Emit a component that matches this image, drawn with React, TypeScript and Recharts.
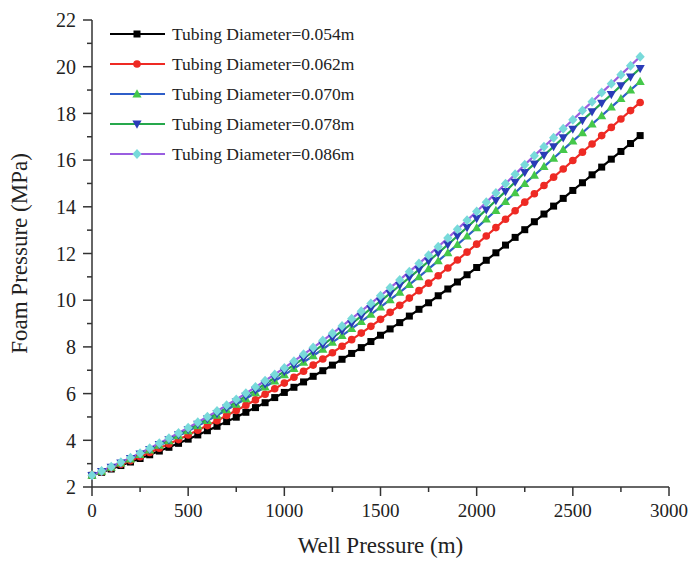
import { LineChart, Line, XAxis, YAxis, Legend } from 'recharts'

const WELL_DEPTH = [
  0, 50, 100, 150, 200, 250, 300, 350, 400, 450,
  500, 550, 600, 650, 700, 750, 800, 850, 900, 950,
  1000, 1050, 1100, 1150, 1200, 1250, 1300, 1350, 1400, 1450,
  1500, 1550, 1600, 1650, 1700, 1750, 1800, 1850, 1900, 1950,
  2000, 2050, 2100, 2150, 2200, 2250, 2300, 2350, 2400, 2450,
  2500, 2550, 2600, 2650, 2700, 2750, 2800, 2850,
]

const D054 = [
  2.50, 2.63, 2.77, 2.92, 3.07, 3.22, 3.38, 3.54, 3.70, 3.87,
  4.05, 4.23, 4.41, 4.60, 4.80, 4.99, 5.20, 5.40, 5.61, 5.83,
  6.05, 6.27, 6.50, 6.74, 6.98, 7.22, 7.47, 7.72, 7.97, 8.23,
  8.50, 8.77, 9.04, 9.32, 9.61, 9.89, 10.19, 10.48, 10.78, 11.09,
  11.40, 11.71, 12.03, 12.36, 12.69, 13.02, 13.36, 13.69, 14.03, 14.36,
  14.70, 15.03, 15.37, 15.70, 16.04, 16.37, 16.71, 17.05,
]
const D062 = [
  2.50, 2.65, 2.81, 2.97, 3.13, 3.30, 3.48, 3.66, 3.84, 4.03,
  4.23, 4.43, 4.63, 4.84, 5.06, 5.28, 5.50, 5.73, 5.97, 6.21,
  6.45, 6.70, 6.96, 7.22, 7.48, 7.75, 8.03, 8.31, 8.59, 8.88,
  9.18, 9.48, 9.78, 10.09, 10.41, 10.73, 11.05, 11.38, 11.72, 12.06,
  12.40, 12.75, 13.11, 13.47, 13.83, 14.20, 14.56, 14.91, 15.27, 15.62,
  15.98, 16.34, 16.69, 17.05, 17.40, 17.76, 18.12, 18.47,
]
const D070 = [
  2.50, 2.67, 2.84, 3.02, 3.20, 3.39, 3.58, 3.78, 3.98, 4.19,
  4.40, 4.62, 4.84, 5.07, 5.30, 5.54, 5.78, 6.03, 6.28, 6.54,
  6.80, 7.07, 7.34, 7.62, 7.90, 8.19, 8.48, 8.78, 9.08, 9.39,
  9.70, 10.02, 10.34, 10.67, 11.00, 11.34, 11.68, 12.03, 12.38, 12.74,
  13.10, 13.47, 13.84, 14.22, 14.60, 14.99, 15.35, 15.72, 16.08, 16.45,
  16.81, 17.17, 17.54, 17.90, 18.27, 18.63, 19.00, 19.36,
]
const D078 = [
  2.50, 2.67, 2.85, 3.03, 3.22, 3.42, 3.61, 3.82, 4.03, 4.24,
  4.46, 4.69, 4.92, 5.15, 5.39, 5.64, 5.89, 6.15, 6.41, 6.68,
  6.95, 7.23, 7.51, 7.80, 8.09, 8.39, 8.69, 9.00, 9.32, 9.64,
  9.96, 10.29, 10.63, 10.97, 11.31, 11.67, 12.02, 12.38, 12.75, 13.12,
  13.50, 13.88, 14.27, 14.66, 15.06, 15.47, 15.84, 16.21, 16.58, 16.96,
  17.33, 17.70, 18.07, 18.44, 18.81, 19.19, 19.56, 19.93,
]
const D086 = [
  2.50, 2.68, 2.87, 3.06, 3.25, 3.45, 3.66, 3.87, 4.09, 4.31,
  4.54, 4.77, 5.01, 5.25, 5.50, 5.75, 6.01, 6.28, 6.55, 6.82,
  7.10, 7.39, 7.68, 7.97, 8.27, 8.58, 8.89, 9.21, 9.53, 9.86,
  10.19, 10.53, 10.87, 11.22, 11.57, 11.93, 12.29, 12.66, 13.04, 13.42,
  13.80, 14.19, 14.59, 14.99, 15.39, 15.80, 16.19, 16.57, 16.96, 17.34,
  17.73, 18.12, 18.50, 18.89, 19.27, 19.66, 20.04, 20.43,
]

const X_TICKS = [0, 250, 500, 750, 1000, 1250, 1500, 1750, 2000, 2250, 2500, 2750, 3000]
const Y_TICKS = [2, 3, 4, 5, 6, 7, 8, 9, 10, 11, 12, 13, 14, 15, 16, 17, 18, 19, 20, 21, 22]

type Shape = 'square' | 'circle' | 'up' | 'down' | 'diamond'

const SERIES: { key: string; label: string; values: number[]; line: string; marker: string; shape: Shape }[] = [
  { key: 'd054', label: 'Tubing Diameter=0.054m', values: D054, line: '#000000', marker: '#000000', shape: 'square' },
  { key: 'd062', label: 'Tubing Diameter=0.062m', values: D062, line: '#ee2a24', marker: '#ee2a24', shape: 'circle' },
  { key: 'd070', label: 'Tubing Diameter=0.070m', values: D070, line: '#2f5ec8', marker: '#45c84a', shape: 'up' },
  { key: 'd078', label: 'Tubing Diameter=0.078m', values: D078, line: '#26a84c', marker: '#2a3bb8', shape: 'down' },
  { key: 'd086', label: 'Tubing Diameter=0.086m', values: D086, line: '#9a5ee0', marker: '#78dada', shape: 'diamond' },
]

const data = WELL_DEPTH.map((x, i) => {
  const row: Record<string, number> = { x }
  SERIES.forEach((s) => { row[s.key] = s.values[i] })
  return row
})

const FONT = '"Liberation Serif", "Times New Roman", serif'
const AXIS = '#333'
const TICK = 9
const GAP_Y = 7
const GAP_X = 8

function Marker({ cx, cy, shape, color }: { cx: number; cy: number; shape: Shape; color: string }) {
  if (cx == null || cy == null) return null
  switch (shape) {
    case 'square':
      return <rect x={cx - 3.5} y={cy - 3.5} width={7} height={7} fill={color} />
    case 'circle':
      return <circle cx={cx} cy={cy} r={3.8} fill={color} />
    case 'up':
      return <path d={`M${cx},${cy - 4.8} L${cx + 4.6},${cy + 3.4} L${cx - 4.6},${cy + 3.4} Z`} fill={color} />
    case 'down':
      return <path d={`M${cx},${cy + 4.8} L${cx + 4.6},${cy - 3.4} L${cx - 4.6},${cy - 3.4} Z`} fill={color} />
    default:
      return <path d={`M${cx},${cy - 5} L${cx + 4.6},${cy} L${cx},${cy + 5} L${cx - 4.6},${cy} Z`} fill={color} />
  }
}

// eslint-disable-next-line @typescript-eslint/no-explicit-any
function YTick({ x, y, payload }: any) {
  const v = payload.value as number
  const major = v % 2 === 0
  const ax = x + TICK + GAP_Y
  return (
    <g>
      <line x1={ax - (major ? TICK : 5)} x2={ax} y1={y} y2={y} stroke={AXIS} strokeWidth={1.5} />
      {major && (
        <text x={x} y={y} dy="0.36em" textAnchor="end" fontSize={20} fill="#222" fontFamily={FONT}>{v}</text>
      )}
    </g>
  )
}

// eslint-disable-next-line @typescript-eslint/no-explicit-any
function XTick({ x, y, payload }: any) {
  const v = payload.value as number
  const major = v % 500 === 0
  const ay = y - TICK - GAP_X
  return (
    <g>
      <line x1={x} x2={x} y1={ay} y2={ay + (major ? TICK : 5)} stroke={AXIS} strokeWidth={1.5} />
      {major && (
        <text x={x} y={y} dy="0.71em" textAnchor="middle" fontSize={19} fill="#222" fontFamily={FONT}>{v}</text>
      )}
    </g>
  )
}

function LegendBox() {
  return (
    <svg width={260} height={150} style={{ display: 'block' }}>
      {SERIES.map((s, i) => {
        const y = 15 + i * 30
        return (
          <g key={s.key}>
            <line x1={5} x2={60} y1={y} y2={y} stroke={s.line} strokeWidth={2.2} />
            <Marker cx={32} cy={y} shape={s.shape} color={s.marker} />
            <text x={67} y={y} dy="0.35em" fontSize={17.5} fill="#222" fontFamily={FONT}>{s.label}</text>
          </g>
        )
      })}
    </svg>
  )
}

export default function App() {
  return (
    <div style={{ position: 'absolute', left: 0, top: 0, width: 692, height: 561, background: '#fff' }}>
      <LineChart
        width={692}
        height={561}
        data={data}
        margin={{ top: 20, right: 23, bottom: 0, left: 0 }}
        style={{ fontFamily: FONT }}
      >
        <XAxis
          type="number"
          dataKey="x"
          domain={[0, 3000]}
          ticks={X_TICKS}
          interval={0}
          height={74}
          tickSize={TICK}
          tickMargin={GAP_X}
          tickLine={false}
          tick={<XTick />}
          axisLine={{ stroke: AXIS, strokeWidth: 1.5 }}
          label={{ value: 'Well Pressure (m)', position: 'insideBottom', offset: 8, fontSize: 23, fill: '#222' }}
        />
        <YAxis
          type="number"
          domain={[2, 22]}
          ticks={Y_TICKS}
          interval={0}
          width={92}
          tickSize={TICK}
          tickMargin={GAP_Y}
          tickLine={false}
          tick={<YTick />}
          axisLine={{ stroke: AXIS, strokeWidth: 1.5 }}
          allowDataOverflow
          label={{
            value: 'Foam Pressure (MPa)',
            angle: -90,
            position: 'insideLeft',
            offset: 19,
            fontSize: 23,
            fill: '#222',
            style: { textAnchor: 'middle' },
          }}
        />
        <Legend
          layout="vertical"
          align="center"
          verticalAlign="middle"
          wrapperStyle={{ top: 19, left: 105, width: 260 }}
          content={() => <LegendBox />}
        />
        {SERIES.map((s) => (
          <Line
            key={s.key}
            type="linear"
            dataKey={s.key}
            stroke={s.line}
            strokeWidth={2.2}
            isAnimationActive={false}
            // eslint-disable-next-line @typescript-eslint/no-explicit-any
            dot={(p: any) => <Marker key={`${s.key}-${p.index}`} cx={p.cx} cy={p.cy} shape={s.shape} color={s.marker} />}
            activeDot={false}
          />
        ))}
      </LineChart>
    </div>
  )
}
